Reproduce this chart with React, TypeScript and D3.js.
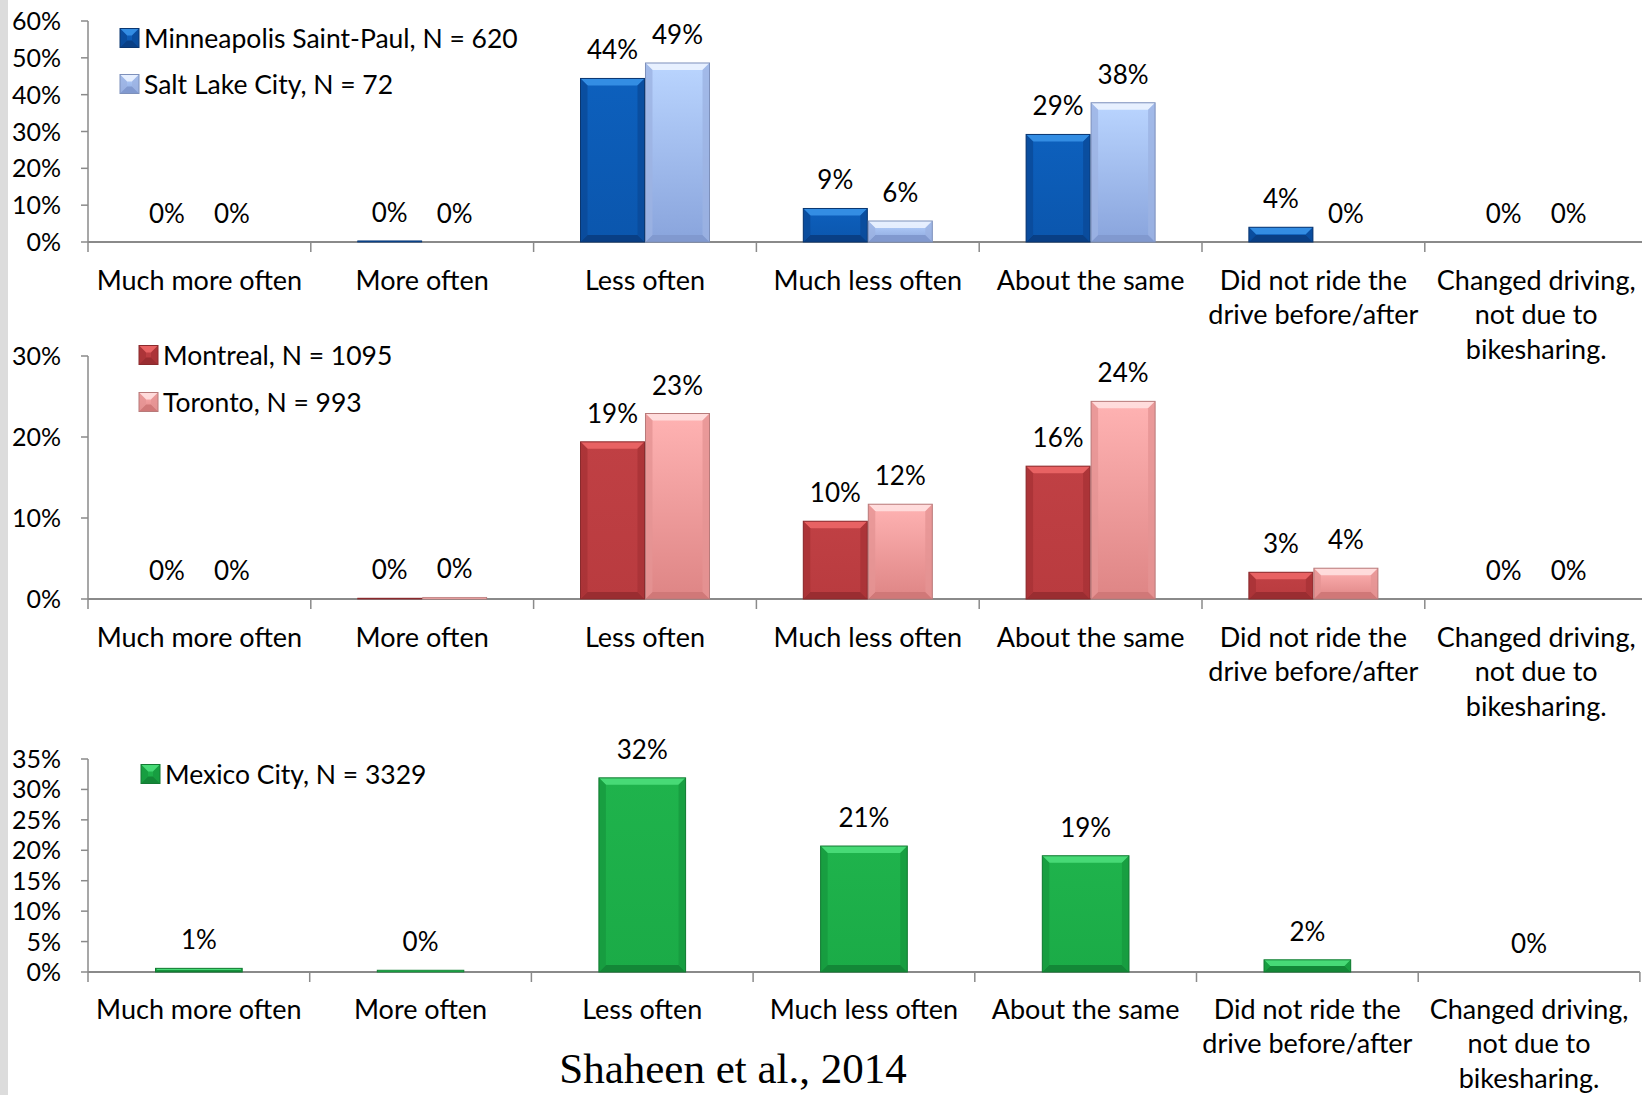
import * as d3 from 'd3'

const W = 1642
const H = 1095

const categories = [
  ['Much more often'],
  ['More often'],
  ['Less often'],
  ['Much less often'],
  ['About the same'],
  ['Did not ride the', 'drive before/after'],
  ['Changed driving,', 'not due to', 'bikesharing.'],
]

// percent values
const minneapolis = [0, 0.3, 44.4, 9.1, 29.2, 4.0, 0]
const saltLake = [0, 0, 48.6, 5.7, 37.8, 0, 0]
const montreal = [0, 0.1, 19.4, 9.6, 16.4, 3.3, 0]
const toronto = [0, 0.2, 22.9, 11.7, 24.4, 3.8, 0]
const mexico = [0.6, 0.3, 31.9, 20.7, 19.1, 2.0, 0]

const ticksTop = [0, 10, 20, 30, 40, 50, 60]
const ticksMid = [0, 10, 20, 30]
const ticksBot = [0, 5, 10, 15, 20, 25, 30, 35]

const FONT = 'Lato, "Open Sans", sans-serif'

interface Style {
  id: string
  top: [string, string]
  side: string
  bottom: string
  stroke: string
  bevelTop: string
}

const styles: Record<string, Style> = {
  blue: { id: 'blue', top: ['#0d60bd', '#0b56ad'], side: '#0a4a98', bottom: '#093f85', stroke: '#0a3670', bevelTop: '#3b95ea' },
  lightBlue: { id: 'lightBlue', top: ['#bad5ff', '#89a4dc'], side: '#9cb3e2', bottom: '#8199cf', stroke: '#7d90bb', bevelTop: '#eef4ff' },
  red: { id: 'red', top: ['#c04044', '#b93b3f'], side: '#a83236', bottom: '#9a2d31', stroke: '#8a2a2d', bevelTop: '#ef6868' },
  pink: { id: 'pink', top: ['#ffb3b3', '#de8585'], side: '#e59393', bottom: '#d07878', stroke: '#b87a7a', bevelTop: '#ffe3e3' },
  green: { id: 'green', top: ['#1fb34c', '#1bab47'], side: '#179a3f', bottom: '#138737', stroke: '#137a33', bevelTop: '#4fe07e' },
}

function Bar({ x, y, w, h, s }: { x: number; y: number; w: number; h: number; s: Style }) {
  if (h <= 0) return null
  if (h < 3) {
    return <rect x={x} y={y} width={w} height={h} fill={s.top[0]} stroke={s.stroke} strokeWidth={0.8} />
  }
  const b = Math.min(7, h / 2, w / 2)
  const p = (pts: number[][]) => pts.map(q => q.join(',')).join(' ')
  return (
    <g>
      <rect x={x} y={y} width={w} height={h} fill={`url(#g-${s.id})`} />
      <polygon points={p([[x, y], [x + w, y], [x + w - b, y + b], [x + b, y + b]])} fill={s.bevelTop} opacity={0.85} />
      <polygon points={p([[x, y + h], [x + w, y + h], [x + w - b, y + h - b], [x + b, y + h - b]])} fill={s.bottom} />
      <polygon points={p([[x, y], [x + b, y + b], [x + b, y + h - b], [x, y + h]])} fill={s.side} opacity={0.8} />
      <polygon points={p([[x + w, y], [x + w - b, y + b], [x + w - b, y + h - b], [x + w, y + h]])} fill={s.side} opacity={0.8} />
      <rect x={x} y={y} width={w} height={h} fill="none" stroke={s.stroke} strokeWidth={1} />
    </g>
  )
}

interface PanelProps {
  series: { name: string; values: number[]; style: Style }[]
  ticks: number[]
  yTop: number
  yZero: number
  band: number
  groupWidth: number
  labelY: number
  legendX: number
  legendY: number[]
}

function Panel({ series, ticks, yTop, yZero, band, groupWidth, labelY, legendX, legendY }: PanelProps) {
  const x0 = 88
  const x = d3.scaleBand<number>().domain(categories.map((_, i) => i)).range([x0, x0 + band * categories.length])
  const y = d3.scaleLinear().domain([0, d3.max(ticks) as number]).range([yZero, yTop])
  const inner = d3.scaleBand<string>().domain(series.map(s => s.name)).range([-groupWidth / 2, groupWidth / 2]).paddingInner(0.015)
  const axisColor = '#8a8a8a'
  return (
    <g>
      {/* y axis */}
      <line x1={x0} x2={x0} y1={yTop} y2={yZero} stroke={axisColor} strokeWidth={1.5} />
      {ticks.map(t => (
        <g key={t}>
          <line x1={x0 - 7} x2={x0} y1={y(t)} y2={y(t)} stroke={axisColor} strokeWidth={1.5} />
          <text x={61} y={y(t)} dy="0.36em" textAnchor="end" fontSize={25} fontFamily={FONT} fill="#000">{t}%</text>
        </g>
      ))}
      {/* x axis */}
      <line x1={x0} x2={x0 + band * categories.length} y1={yZero} y2={yZero} stroke={axisColor} strokeWidth={2} />
      {d3.range(categories.length + 1).map(i => (
        <line key={i} x1={x0 + i * band} x2={x0 + i * band} y1={yZero} y2={yZero + 10} stroke={axisColor} strokeWidth={1.5} />
      ))}
      {categories.map((lines, i) => (
        <text key={i} x={(x(i) as number) + band / 2} y={labelY} textAnchor="middle" fontSize={27} fontFamily={FONT} fill="#000">
          {lines.map((l, j) => (
            <tspan key={j} x={(x(i) as number) + band / 2} dy={j === 0 ? '0.36em' : 34.5}>{l}</tspan>
          ))}
        </text>
      ))}
      {/* bars */}
      {series.map(s => (
        <g key={s.name}>
          {s.values.map((v, i) => {
            const bx = (x(i) as number) + band / 2 + (inner(s.name) as number)
            const bw = inner.bandwidth()
            return (
              <g key={i}>
                <Bar x={bx} y={y(v)} w={bw} h={yZero - y(v)} s={s.style} />
                <text x={bx + bw / 2} y={y(v) - 19} textAnchor="middle" fontSize={26} fontFamily={FONT} fill="#000">
                  {Math.round(v)}%
                </text>
              </g>
            )
          })}
        </g>
      ))}
      {/* legend */}
      {series.map((s, i) => (
        <g key={s.name} transform={`translate(${legendX},${legendY[i]})`}>
          <Bar x={0} y={-9.5} w={19} h={19} s={s.style} />
          <text x={24} y={0} dy="0.36em" fontSize={26.5} fontFamily={FONT} fill="#000">{s.name}</text>
        </g>
      ))}
    </g>
  )
}

export default function App() {
  return (
    <svg width={W} height={H} style={{ position: 'absolute', left: 0, top: 0, background: '#fff' }}>
      <defs>
        {Object.values(styles).map(s => (
          <linearGradient key={s.id} id={`g-${s.id}`} x1="0" y1="0" x2="0" y2="1">
            <stop offset="0" stopColor={s.top[0]} />
            <stop offset="1" stopColor={s.top[1]} />
          </linearGradient>
        ))}
      </defs>
      <rect x={0} y={0} width={W} height={H} fill="#fff" />
      <rect x={0} y={0} width={8} height={H} fill="#dcdcdc" />
      <Panel
        series={[
          { name: 'Minneapolis Saint-Paul, N = 620', values: minneapolis, style: styles.blue },
          { name: 'Salt Lake City, N = 72', values: saltLake, style: styles.lightBlue },
        ]}
        ticks={ticksTop}
        yTop={21}
        yZero={242}
        band={222.8}
        groupWidth={129}
        labelY={280}
        legendX={120}
        legendY={[38, 84]}
      />
      <Panel
        series={[
          { name: 'Montreal, N = 1095', values: montreal, style: styles.red },
          { name: 'Toronto, N = 993', values: toronto, style: styles.pink },
        ]}
        ticks={ticksMid}
        yTop={356}
        yZero={599}
        band={222.8}
        groupWidth={129}
        labelY={637}
        legendX={139}
        legendY={[355, 402]}
      />
      <Panel
        series={[{ name: 'Mexico City, N = 3329', values: mexico, style: styles.green }]}
        ticks={ticksBot}
        yTop={759}
        yZero={972}
        band={221.7}
        groupWidth={88}
        labelY={1009}
        legendX={141}
        legendY={[774]}
      />
      <text x={733} y={1083} textAnchor="middle" fontSize={43} fontFamily='"Liberation Serif", "DejaVu Serif", serif' fill="#000">
        Shaheen et al., 2014
      </text>
    </svg>
  )
}
